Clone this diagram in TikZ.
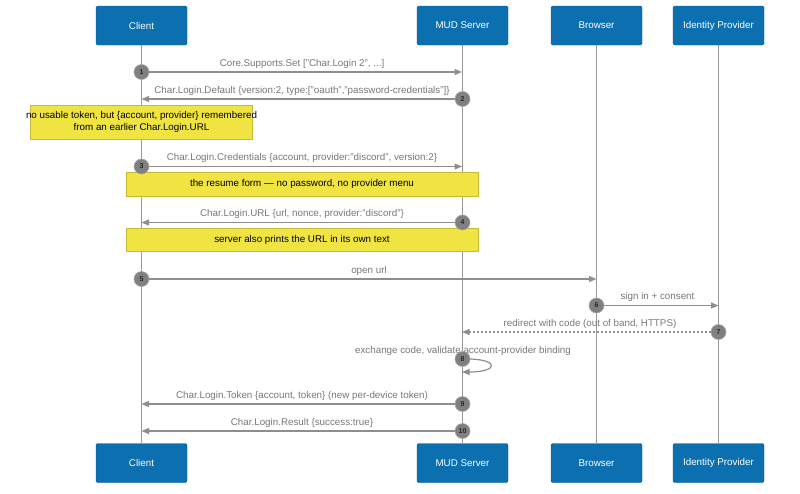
\documentclass[tikz,border=0pt]{standalone}
\usepackage{fontspec}
\setmainfont{Liberation Sans}
\usetikzlibrary{arrows.meta}
\definecolor{actorblue}{HTML}{0B6FB0}
\definecolor{actorborder}{HTML}{0A5A90}
\definecolor{noteyellow}{HTML}{F0E442}
\definecolor{noteborder}{HTML}{C9BA35}
\definecolor{msggray}{HTML}{8E8E8E}
\definecolor{lifegray}{HTML}{999999}
\definecolor{numgray}{HTML}{808080}
\definecolor{labelgray}{HTML}{777777}
\tikzset{
  actor/.style={draw=actorborder, fill=actorblue, rounded corners=1.5pt, minimum width=91pt, minimum height=39pt, inner sep=0pt, text=white, font=\fontsize{9.8}{11}\selectfont},
  lifeline/.style={draw=lifegray, line width=1.3pt},
  msg/.style={draw=msggray, line width=1.2pt, -{Triangle[length=7.5pt,width=6pt]}},
  dmsg/.style={msg, dash pattern=on 2pt off 2pt},
  msglabel/.style={text=labelgray, font=\fontsize{9.8}{11}\selectfont, inner sep=0pt},
  num/.style={circle, fill=numgray, draw=numgray!70!white, line width=0.6pt, minimum size=15pt, inner sep=0pt, text=black!85, font=\bfseries\fontsize{7}{8}\selectfont},
  notebox/.style={draw=noteborder, fill=noteyellow, line width=0.8pt, inner sep=0pt},
  notetext/.style={text=black, font=\fontsize{9.8}{11.2}\selectfont, align=center, inner sep=0pt},
}
\begin{document}
\begin{tikzpicture}[x=1pt,y=-1pt]
\useasboundingbox (0,0) rectangle (800,493);
% actors
\node[actor] (ct) at (141.5,25.5) {Client};
\node[actor] (st) at (462.5,25.5) {MUD Server};
\node[actor] (bt) at (596.5,25.5) {Browser};
\node[actor] (it) at (718.5,25.5) {Identity Provider};
\node[actor] (cb) at (141.5,463) {Client};
\node[actor] (sb) at (462.5,463) {MUD Server};
\node[actor] (bb) at (596.5,463) {Browser};
\node[actor] (ib) at (718.5,463) {Identity Provider};
% lifelines
\draw[lifeline] (ct.south) -- (cb.north);
\draw[lifeline] (st.south) -- (sb.north);
\draw[lifeline] (bt.south) -- (bb.north);
\draw[lifeline] (it.south) -- (ib.north);
% end coordinates
\coordinate (e1) at (462,72);
\coordinate (e2) at (141.5,99);
\coordinate (e3) at (462,166.5);
\coordinate (e4) at (141.5,222.5);
\coordinate (e5) at (596.5,279);
\coordinate (e6) at (718.5,305.5);
\coordinate (e7) at (462,332);
\coordinate (e8) at (462,372);
\coordinate (e9) at (141.5,404);
\coordinate (e10) at (141.5,431);
% number circles (positions)
\coordinate (p1) at (141.5,72);
\coordinate (p2) at (462.5,99);
\coordinate (p3) at (141.5,166.5);
\coordinate (p4) at (462.5,222.5);
\coordinate (p5) at (141.5,279);
\coordinate (p6) at (596.5,305.5);
\coordinate (p7) at (718.5,332);
\coordinate (p8) at (462.5,359);
\coordinate (p9) at (462.5,404);
\coordinate (p10) at (462.5,431);
% messages
\draw[msg] (p1) -- (e1);
\draw[msg] (p2) -- (e2);
\draw[msg] (p3) -- (e3);
\draw[msg] (p4) -- (e4);
\draw[msg] (p5) -- (e5);
\draw[msg] (p6) -- (e6);
\draw[dmsg] (p7) -- (e7);
\draw[msg] (p8) .. controls (500,358) and (500,372) .. (e8);
\draw[msg] (p9) -- (e9);
\draw[msg] (p10) -- (e10);
% labels
\node[msglabel] (l1) at (302,64) {Core.Supports.Set ["Char.Login 2", ...]};
\node[msglabel] (l2) at (302,90.5) {Char.Login.Default \{version:2, type:["oauth","password-credentials"]\}};
\node[msglabel] (l3) at (302,158) {Char.Login.Credentials \{account, provider:"discord", version:2\}};
\node[msglabel] (l4) at (302,214) {Char.Login.URL \{url, nonce, provider:"discord"\}};
\node[msglabel] (l5) at (369,270.5) {open url};
\node[msglabel] (l6) at (657.5,297) {sign in + consent};
\node[msglabel] (l7) at (590,323.5) {redirect with code (out of band, HTTPS)};
\node[msglabel] (l8) at (463,351) {exchange code, validate account-provider binding};
\node[msglabel] (l9) at (302,395.5) {Char.Login.Token \{account, token\} (new per-device token)};
\node[msglabel] (l10) at (302,422.5) {Char.Login.Result \{success:true\}};
% notes
\node[notebox, minimum width=222pt, minimum height=34pt] (n1) at (141.5,122) {};
\node[notetext] (n1t) at (n1.center) {no usable token, but \{account, provider\} remembered\\from an earlier Char.Login.URL};
\node[notebox, minimum width=352pt, minimum height=24pt] (n2) at (302,184) {};
\node[notetext] (n2t) at (n2.center) {the resume form — no password, no provider menu};
\node[notebox, minimum width=352pt, minimum height=23pt] (n3) at (302,240) {};
\node[notetext] (n3t) at (n3.center) {server also prints the URL in its own text};
% circles
\node[num] (c1) at (p1) {1};
\node[num] (c2) at (p2) {2};
\node[num] (c3) at (p3) {3};
\node[num] (c4) at (p4) {4};
\node[num] (c5) at (p5) {5};
\node[num] (c6) at (p6) {6};
\node[num] (c7) at (p7) {7};
\node[num] (c8) at (p8) {8};
\node[num] (c9) at (p9) {9};
\node[num] (c10) at (p10) {10};
\end{tikzpicture}
\end{document}
